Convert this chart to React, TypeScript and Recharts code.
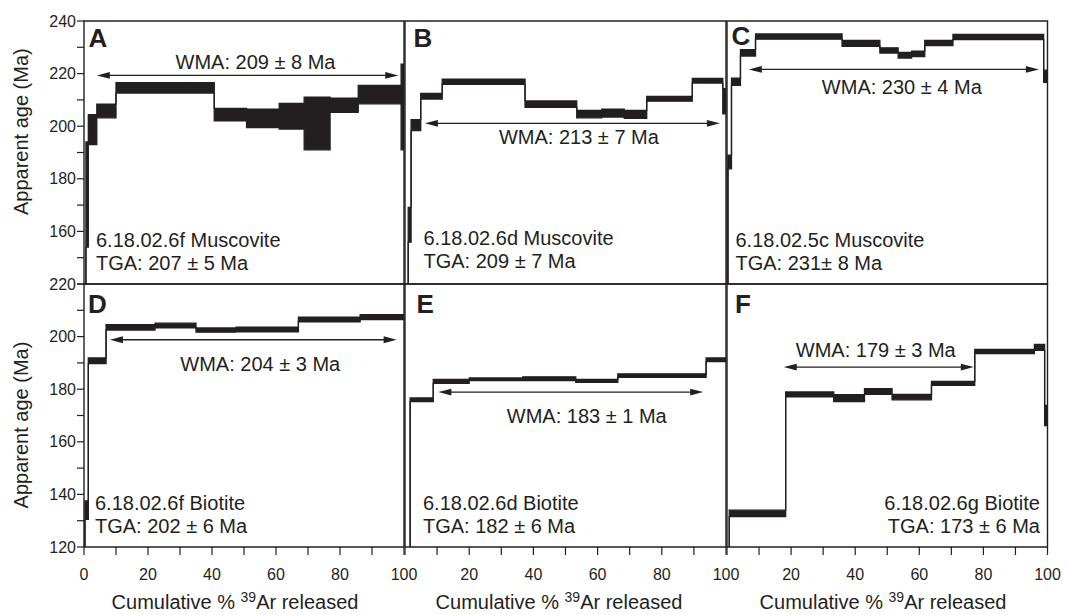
import React from 'react';
import { ComposedChart, Area, XAxis, YAxis, ReferenceArea, ReferenceLine } from 'recharts';

const INK = '#231f20';
const FONT = '"Liberation Sans", Arial, Helvetica, sans-serif';

// step start (cumulative % 39Ar released), apparent age and half error (Ma)
// the first step of every spectrum is below the axis, only its riser shows
const aCum = [0, 0.6, 1.35, 4.0, 10.0, 40.7, 50.8, 61.0, 68.8, 76.9, 85.7, 99.1];
const aAge = [100, 174.0, 198.7, 205.8, 214.6, 204.4, 203.0, 203.8, 201.0, 208.0, 212.0, 207.3];
const aErr = [5, 20.0, 5.7, 2.6, 2.0, 2.4, 3.5, 4.9, 10.0, 2.7, 3.5, 16.3];

const bCum = [0, 1.0, 1.9, 4.9, 11.6, 37.4, 53.5, 61.3, 68.3, 75.3, 89.5, 99.0];
const bAge = [100, 162.5, 200.4, 211.4, 216.9, 208.4, 204.6, 205.0, 204.5, 210.4, 217.3, 209.5];
const bErr = [5, 6.6, 2.1, 1.1, 1.0, 1.2, 1.4, 1.5, 1.5, 0.9, 0.9, 4.8];

const cCum = [0, 0.3, 1.4, 4.2, 8.9, 35.9, 47.7, 53.4, 57.6, 61.7, 70.5, 98.8];
const cAge = [100, 186.4, 216.9, 227.9, 234.1, 231.5, 228.8, 227.0, 227.5, 231.6, 233.9, 219.0];
const cErr = [5, 2.6, 1.4, 1.2, 1.0, 1.1, 1.0, 1.1, 1.0, 1.0, 1.0, 2.3];

const dCum = [0, 0.3, 1.35, 6.9, 22.2, 35.0, 47.5, 67.0, 86.3];
const dAge = [100, 134.0, 190.8, 203.5, 204.2, 202.5, 202.7, 206.5, 207.4];
const dErr = [5, 3.5, 1.1, 1.0, 0.9, 0.8, 0.85, 0.85, 0.9];

const eCum = [0, 1.6, 8.8, 20.0, 36.7, 53.2, 66.3, 93.8];
const eAge = [100, 176.0, 183.0, 183.8, 184.0, 183.2, 185.2, 191.2];
const eErr = [5, 0.7, 0.75, 0.5, 0.7, 0.55, 0.65, 0.7];

const fCum = [0, 0.7, 18.3, 33.3, 42.9, 51.5, 63.8, 77.3, 95.9, 99.1];
const fAge = [100, 132.8, 178.0, 176.6, 179.1, 177.0, 182.2, 194.3, 195.9, 170.0];
const fErr = [5, 1.2, 0.95, 1.3, 1.1, 1.05, 0.75, 0.8, 1.15, 3.8];

// weighted mean age plateau arrows (A..F)
const wmaFrom = [4.0, 6.2, 6.8, 8.1, 10.4, 17.7];
const wmaTo = [98.2, 98.1, 97.3, 97.7, 92.9, 77.0];
const wmaLevel = [219.3, 201.1, 221.6, 198.8, 178.9, 188.4];
const wmaText = ['WMA: 209 ± 8 Ma', 'WMA: 213 ± 7 Ma', 'WMA: 230 ± 4 Ma', 'WMA: 204 ± 3 Ma', 'WMA: 183 ± 1 Ma', 'WMA: 179 ± 3 Ma'];

const letters = ['A', 'B', 'C', 'D', 'E', 'F'];
const sampleNames = ['6.18.02.6f Muscovite', '6.18.02.6d Muscovite', '6.18.02.5c Muscovite', '6.18.02.6f Biotite', '6.18.02.6d Biotite', '6.18.02.6g Biotite'];
const tgaText = ['TGA: 207 ± 5 Ma', 'TGA: 209 ± 7 Ma', 'TGA: 231± 8 Ma', 'TGA: 202 ± 6 Ma', 'TGA: 182 ± 6 Ma', 'TGA: 173 ± 6 Ma'];

const xTicks = [0, 10, 20, 30, 40, 50, 60, 70, 80, 90, 100];
const topYTicks = [140, 150, 160, 170, 180, 190, 200, 210, 220, 230, 240];
const bottomYTicks = [120, 130, 140, 150, 160, 170, 180, 190, 200, 210, 220];

const buildRows = (cum: number[], age: number[], err: number[]) => {
  const rows = cum.map((c, i) => ({ x: c, r: [age[i] - err[i], age[i] + err[i]] }));
  rows.push({ x: 100, r: rows[rows.length - 1].r });
  return rows;
};

const seriesList = [
  buildRows(aCum, aAge, aErr),
  buildRows(bCum, bAge, bErr),
  buildRows(cCum, cAge, cErr),
  buildRows(dCum, dAge, dErr),
  buildRows(eCum, eAge, eErr),
  buildRows(fCum, fAge, fErr),
];

// layout of the six plot areas (px) and label placement
const plotLeft = [84, 405, 726.5];
const plotWidth = [320, 321, 320.5];
const plotTop = [20.5, 283.5];
const PLOT_H = 263;
const wmaDx = [8, 6.5, 8, 7, 16, -3];
const wmaDy = [-6, 21, 25, 31, 31, -10.5];
const letterPos = [[88.5, 46.7], [413.5, 46.7], [731.5, 45], [88, 313.3], [416.5, 313.3], [735, 313.3]];
const samplePos = [[96, 247.3], [423.5, 245], [735.5, 246.7], [95, 509.5], [423, 510], [1040, 510]];

const makeArrow = (label: string, dx: number, dy: number) => (p: any) => {
  const { x1, y1, x2 } = p;
  const head = 13;
  const half = 3.4;
  return (
    <g>
      <line x1={x1 + head - 1} y1={y1} x2={x2 - head + 1} y2={y1} stroke={INK} strokeWidth={1.3} />
      <polygon points={`${x1},${y1} ${x1 + head},${y1 - half} ${x1 + head},${y1 + half}`} fill={INK} />
      <polygon points={`${x2},${y1} ${x2 - head},${y1 - half} ${x2 - head},${y1 + half}`} fill={INK} />
      <text x={(x1 + x2) / 2 + dx} y={y1 + dy} textAnchor="middle" fontSize={20} fill={INK} fontFamily={FONT}>
        {label}
      </text>
    </g>
  );
};

const Panel: React.FC<{ idx: number }> = ({ idx }) => {
  const col = idx % 3;
  const row = Math.floor(idx / 3);
  const bottomRow = row === 1;
  const firstCol = col === 0;
  const yDomain = bottomRow ? [120, 220] : [140, 240];
  const yTicks = bottomRow ? bottomYTicks : topYTicks;
  const LW = 60;
  const mT = 10;
  const mR = 20;
  const xH = bottomRow ? 50 : 0;
  const mB = bottomRow ? 0 : 10;
  const width = LW + plotWidth[col] + mR;
  const height = mT + PLOT_H + xH + mB;

  const yFmt = (v: number) => {
    if (!firstCol || v % 20 !== 0) return '';
    if (!bottomRow && v === 140) return '';
    return String(v);
  };
  const xFmt = (v: number) => {
    if (v % 20 !== 0) return '';
    if (v === 0 && col !== 0) return '';
    return String(v);
  };

  return (
    <div style={{ position: 'absolute', left: plotLeft[col] - LW, top: plotTop[row] - mT }}>
      <ComposedChart width={width} height={height} data={seriesList[idx]} margin={{ top: mT, right: mR, bottom: mB, left: 0 }}>
        <XAxis
          dataKey="x"
          type="number"
          domain={[0, 100]}
          ticks={xTicks}
          interval={0}
          allowDataOverflow
          hide={!bottomRow}
          height={xH}
          stroke={INK}
          axisLine={false}
          tickSize={8}
          tickMargin={14}
          tickLine={{ stroke: INK, strokeWidth: 1.2 }}
          tick={{ fill: INK, fontSize: 16, fontFamily: FONT }}
          tickFormatter={xFmt}
        />
        {bottomRow && (
          <XAxis
            xAxisId="top"
            orientation="top"
            mirror
            type="number"
            domain={[0, 100]}
            ticks={xTicks}
            interval={0}
            allowDataOverflow
            stroke={INK}
            axisLine={false}
            tickSize={7}
            tickLine={{ stroke: INK, strokeWidth: 1.2 }}
            tick={false}
          />
        )}
        <YAxis
          type="number"
          domain={yDomain}
          ticks={yTicks}
          interval={0}
          allowDataOverflow
          width={LW}
          stroke={INK}
          axisLine={false}
          tickSize={firstCol ? 7 : 5}
          tickMargin={1}
          tickLine={{ stroke: INK, strokeWidth: 1.2 }}
          tick={firstCol ? { fill: INK, fontSize: 16, fontFamily: FONT } : false}
          tickFormatter={yFmt}
        />
        <Area
          dataKey="r"
          type="stepAfter"
          stroke={INK}
          strokeWidth={1.3}
          fill={INK}
          fillOpacity={1}
          dot={false}
          activeDot={false}
          isAnimationActive={false}
        />
        <ReferenceArea x1={0} x2={100} y1={yDomain[0]} y2={yDomain[1]} fill="none" stroke={INK} strokeWidth={1.4} />
        <ReferenceLine
          segment={[
            { x: wmaFrom[idx], y: wmaLevel[idx] },
            { x: wmaTo[idx], y: wmaLevel[idx] },
          ]}
          shape={makeArrow(wmaText[idx], wmaDx[idx], wmaDy[idx])}
        />
      </ComposedChart>
    </div>
  );
};

const App: React.FC = () => {
  return (
    <div style={{ position: 'absolute', left: 0, top: 0, width: 1066, height: 615, background: '#fff' }}>
      {[0, 1, 2, 3, 4, 5].map(i => (
        <Panel key={i} idx={i} />
      ))}
      <svg
        width={1066}
        height={615}
        style={{ position: 'absolute', left: 0, top: 0, pointerEvents: 'none' }}
        fontFamily={FONT}
        fill={INK}
      >
        {letters.map((l, i) => (
          <text key={l} x={letterPos[i][0]} y={letterPos[i][1]} fontSize={26} fontWeight="bold">
            {l}
          </text>
        ))}
        {sampleNames.map((s, i) => (
          <text key={s + i} x={samplePos[i][0]} y={samplePos[i][1]} fontSize={20} textAnchor={i === 5 ? 'end' : 'start'}>
            <tspan x={samplePos[i][0]}>{s}</tspan>
            <tspan x={samplePos[i][0]} dy={23}>{tgaText[i]}</tspan>
          </text>
        ))}
        <text transform="translate(27.6,131.7) rotate(-90)" textAnchor="middle" fontSize={20}>
          Apparent age (Ma)
        </text>
        <text transform="translate(28,425) rotate(-90)" textAnchor="middle" fontSize={20}>
          Apparent age (Ma)
        </text>
        {[235, 559, 883].map(cx => (
          <text key={cx} x={cx} y={609} textAnchor="middle" fontSize={20}>
            Cumulative %{' '}
            <tspan dy={-7} fontSize={14}>
              39
            </tspan>
            <tspan dy={7}>Ar released</tspan>
          </text>
        ))}
      </svg>
    </div>
  );
};

export default App;
